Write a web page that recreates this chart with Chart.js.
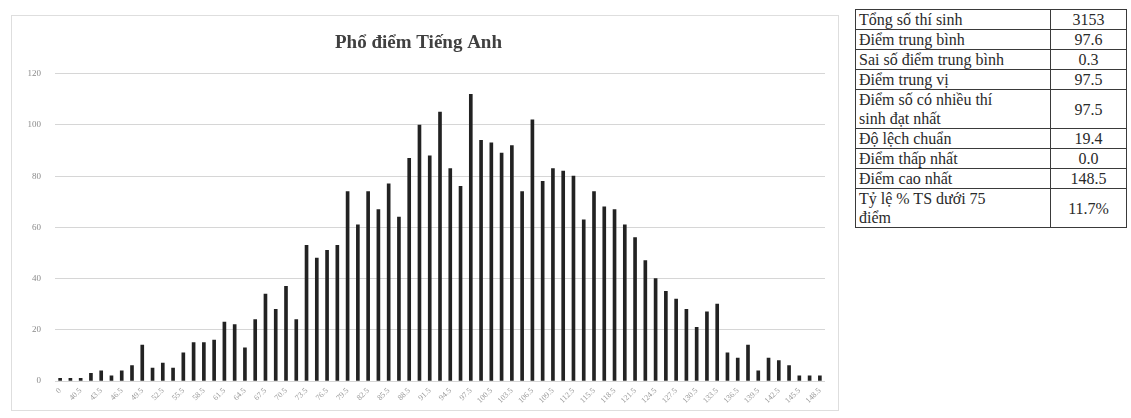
<!DOCTYPE html>
<html lang="vi">
<head>
<meta charset="utf-8">
<title>Phổ điểm Tiếng Anh</title>
<script src="https://cdn.jsdelivr.net/npm/chart.js@4/dist/chart.umd.min.js"></script>
<style>
  html, body { margin: 0; padding: 0; background: #fff; }
  body { width: 1131px; height: 418px; position: relative; overflow: hidden; }
  #chartBox {
    position: absolute; left: 11px; top: 15px; width: 828px; height: 396px;
    border: 1px solid #dedede; box-sizing: border-box;
  }
  #chartBox canvas { display: block; }
  #stats {
    position: absolute; left: 855px; top: 9px; width: 272px;
    border-collapse: collapse; table-layout: fixed;
    font-family: "Liberation Serif", "DejaVu Serif", serif;
    font-size: 16px; color: #2a2a2a;
  }
  #stats td {
    border: 1px solid #3a3a3a; padding: 0 3px; height: 19px; line-height: 19px;
    white-space: pre-line; vertical-align: middle;
  }
  #stats td.k { width: 188px; }
  #stats td.v { text-align: center; }
</style>
</head>
<body>
<div id="chartBox"><canvas id="c" width="826" height="394"></canvas></div>
<table id="stats"></table>
<script>
// score buckets on the horizontal axis
const scores = [
  "0", "39", "40.5", "42", "43.5", "45", "46.5", "48", "49.5", "51",
  "52.5", "54", "55.5", "57", "58.5", "60", "61.5", "63", "64.5", "66",
  "67.5", "69", "70.5", "72", "73.5", "75", "76.5", "78", "79.5", "81",
  "82.5", "84", "85.5", "87", "88.5", "90", "91.5", "93", "94.5", "96",
  "97.5", "99", "100.5", "102", "103.5", "105", "106.5", "108", "109.5", "111",
  "112.5", "114", "115.5", "117", "118.5", "120", "121.5", "123", "124.5", "126",
  "127.5", "129", "130.5", "132", "133.5", "135", "136.5", "138", "139.5", "141",
  "142.5", "144", "145.5", "147", "148.5"
];

// number of candidates per score bucket
const counts = [
  1, 1, 1, 3, 4, 2, 4, 6, 14, 5,
  7, 5, 11, 15, 15, 16, 23, 22, 13, 24,
  34, 28, 37, 24, 53, 48, 51, 53, 74, 61,
  74, 67, 77, 64, 87, 100, 88, 105, 83, 76,
  112, 94, 93, 89, 92, 74, 102, 78, 83, 82,
  80, 63, 74, 68, 67, 61, 56, 47, 40, 35,
  32, 28, 21, 27, 30, 11, 9, 14, 4, 9,
  8, 6, 2, 2, 2
];

// y axis ticks
const countTicks = [0, 20, 40, 60, 80, 100, 120];

// summary table (line breaks as printed)
const statLabels = [
  "Tổng số thí sinh",
  "Điểm trung bình",
  "Sai số điểm trung bình",
  "Điểm trung vị",
  "Điểm số có nhiều thí\nsinh đạt nhất",
  "Độ lệch chuẩn",
  "Điểm thấp nhất",
  "Điểm cao nhất",
  "Tỷ lệ % TS dưới 75\nđiểm"
];
const statValues = ["3153", "97.6", "0.3", "97.5", "97.5", "19.4", "0.0", "148.5", "11.7%"];

const table = document.getElementById("stats");
statLabels.forEach((label, i) => {
  const tr = document.createElement("tr");
  const a = document.createElement("td");
  const b = document.createElement("td");
  a.textContent = label;
  a.className = "k";
  b.textContent = statValues[i];
  b.className = "v";
  tr.appendChild(a);
  tr.appendChild(b);
  table.appendChild(tr);
});

const serif = "'Liberation Serif', 'DejaVu Serif', serif";

new Chart(document.getElementById("c"), {
  type: "bar",
  data: {
    labels: scores,
    datasets: [{
      data: counts,
      backgroundColor: "#222222",
      borderWidth: 0,
      barThickness: 3
    }]
  },
  options: {
    responsive: false,
    animation: false,
    events: [],
    layout: { padding: { left: 0, right: 13, top: 0, bottom: 0 } },
    plugins: {
      legend: { display: false },
      tooltip: { enabled: false },
      title: {
        display: true,
        text: "Phổ điểm Tiếng Anh",
        color: "#404040",
        font: { family: serif, size: 19, weight: "bold" },
        padding: { top: 16, bottom: 19 }
      }
    },
    scales: {
      x: {
        type: "category",
        grid: { display: false, drawTicks: false },
        border: { display: false },
        ticks: {
          autoSkip: false,
          minRotation: 45,
          maxRotation: 45,
          padding: 5,
          color: "#9a9a9a",
          font: { family: serif, size: 8 },
          callback: (v, i) => (i % 2 === 0 ? scores[i] : "")
        },
        afterFit: s => { s.height = 29; }
      },
      y: {
        min: 0,
        max: 120,
        afterBuildTicks: s => { s.ticks = countTicks.map(v => ({ value: v })); },
        grid: { color: "#d6d6d6", lineWidth: 1, drawTicks: false },
        border: { display: false },
        ticks: {
          padding: 14,
          color: "#8a8a8a",
          font: { family: serif, size: 9 }
        },
        afterFit: s => { s.width = 43; }
      }
    }
  }
});
</script>
</body>
</html>
